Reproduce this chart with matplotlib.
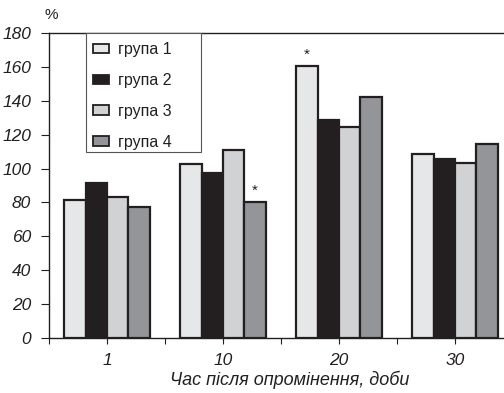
import matplotlib.pyplot as plt
from matplotlib.patches import Rectangle
import numpy as np

plt.rcParams['font.family'] = ['Liberation Sans', 'DejaVu Sans']

# дані
days = ['1', '10', '20', '30']
groups = ['група 1', 'група 2', 'група 3', 'група 4']
g1 = [81.5, 102.5, 160.3, 108.4]
g2 = [91.7, 97.6, 128.7, 105.7]
g3 = [83.4, 111.2, 124.4, 103.5]
g4 = [77.5, 80.4, 142.2, 114.4]
series = [g1, g2, g3, g4]
colors = ['#e6e7e9', '#231f20', '#d1d2d4', '#939598']
# зірочки: (група, день)
stars = [(0, 2), (3, 1)]

W, H = 504, 393
fig = plt.figure(figsize=(W / 100, H / 100), dpi=100)
ax = fig.add_axes([49 / W, 55 / H, 464 / W, 305 / H])

x = np.arange(len(days))
w = 0.185
for i, s in enumerate(series):
    ax.bar(x + (i - 1.5) * w, s, width=w, color=colors[i],
           edgecolor='#231f20', linewidth=1.6, label=groups[i], zorder=2)

for gi, di in stars:
    ax.text(x[di] + (gi - 1.5) * w, series[gi][di] + 2.5, '*',
            ha='center', va='bottom', fontsize=11, color='#231f20')

ax.set_xlim(-0.5, 3.5)
ax.set_ylim(0, 180)
ax.set_yticks(np.arange(0, 181, 20))
ax.set_yticklabels([str(v) for v in range(0, 181, 20)], fontstyle='italic', fontsize=12.5)
ax.set_xticks(np.arange(-0.5, 3.6, 1.0), minor=True)
ax.set_xticks(x)
ax.set_xticklabels(days, fontstyle='italic', fontsize=12.5)
ax.tick_params(axis='x', which='both', direction='out', length=4, width=0.8,
               color='#231f20', pad=7, labelcolor='#231f20')
ax.tick_params(axis='y', direction='out', length=6, width=0.8, color='#231f20',
               pad=7, labelcolor='#231f20')
for sp in ['left', 'top', 'bottom']:
    ax.spines[sp].set_linewidth(1.0)
    ax.spines[sp].set_color('#231f20')
ax.spines['right'].set_visible(False)

fig.text(290 / W, 1 - 385 / H, 'Час після опромінення, доби', ha='center',
         va='baseline', fontstyle='italic', fontsize=13, color='#231f20')
fig.text(51 / W, 1 - 15 / H, '%', ha='center', va='center', fontsize=11,
         color='#231f20')

# рамка легенди
fig.add_artist(Rectangle((86 / W, 1 - 152 / H), 115 / W, 119 / H,
                         transform=fig.transFigure, facecolor='white',
                         edgecolor='#555555', linewidth=0.8, zorder=3))
leg = fig.legend(*ax.get_legend_handles_labels(), loc='upper left',
                 bbox_to_anchor=(93 / W, 1 - 42 / H), frameon=False,
                 fontsize=11.5, labelspacing=1.0, handlelength=1.0,
                 handleheight=0.55, handletextpad=0.55, borderpad=0,
                 borderaxespad=0)
leg.set_zorder(4)
for t in leg.get_texts():
    t.set_color('#231f20')
for h in leg.legend_handles:
    h.set_linewidth(1.3)

fig.savefig('out.png', dpi=100)
